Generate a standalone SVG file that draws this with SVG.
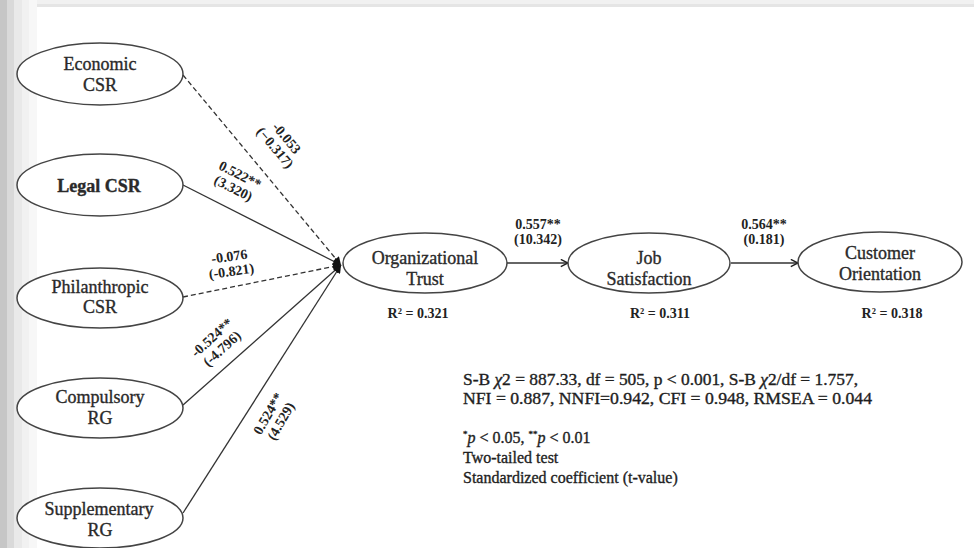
<svg xmlns="http://www.w3.org/2000/svg" width="974" height="548" viewBox="0 0 974 548">
  <defs>
    <marker id="head-solid" viewBox="0 0 10 10" refX="10" refY="5" markerWidth="10" markerHeight="8" markerUnits="userSpaceOnUse" orient="auto">
      <path d="M0,0 L10,5 L0,10 Z" fill="#111"/>
    </marker>
    <marker id="head-open" viewBox="0 0 10 10" refX="9" refY="5" markerWidth="9" markerHeight="9" markerUnits="userSpaceOnUse" orient="auto">
      <path d="M1,1 L9,5 L1,9" fill="none" stroke="#222" stroke-width="1.6"/>
    </marker>
    <style>
      .node ellipse { fill: #ffffff; stroke: #444; stroke-width: 1.5; }
      .lbl { font-family: "Liberation Serif", "Times New Roman", serif; font-size: 18px; fill: #2a2a2a; stroke: #2a2a2a; stroke-width: 0.35; text-anchor: middle; }
      .coef { font-family: "Liberation Serif", "Times New Roman", serif; font-size: 14px; font-weight: bold; fill: #222; text-anchor: middle; }
      .r2 { font-family: "Liberation Serif", "Times New Roman", serif; font-size: 14px; font-weight: bold; fill: #222; text-anchor: middle; }
      .note { font-family: "Liberation Serif", "Times New Roman", serif; font-size: 16px; fill: #1e1e1e; stroke: #1e1e1e; stroke-width: 0.35; }
      .edge { stroke: #333; stroke-width: 1.3; fill: none; }
      .dash { stroke-dasharray: 5 3; }
    </style>
  </defs>

  <!-- page background with soft left and top borders -->
  <rect x="0" y="0" width="974" height="548" fill="#ffffff"/>
  <rect x="0" y="0" width="974" height="4" fill="#f1f1f1"/>
  <rect x="0" y="4" width="974" height="3" fill="#e5e5e5"/>
  <rect x="0" y="0" width="7" height="548" fill="#c6c6c6"/>
  <rect x="7" y="0" width="7" height="548" fill="#d9d9d9"/>
  <rect x="14" y="0" width="8" height="548" fill="#e9e9e9"/>
  <rect x="22" y="0" width="7" height="548" fill="#f1f1f1"/>
  <rect x="29" y="0" width="8" height="548" fill="#f7f7f7"/>

  <!-- connectors -->
  <g id="connectors">
    <line class="edge dash" x1="183" y1="75" x2="341" y2="265" marker-end="url(#head-solid)"/>
    <line class="edge" x1="183" y1="185" x2="341" y2="265" marker-end="url(#head-solid)"/>
    <line class="edge dash" x1="183" y1="297" x2="341" y2="265" marker-end="url(#head-solid)"/>
    <line class="edge" x1="183" y1="405" x2="341" y2="265" marker-end="url(#head-solid)"/>
    <line class="edge" x1="183" y1="513" x2="341" y2="265" marker-end="url(#head-solid)"/>
    <line class="edge" x1="507" y1="263" x2="568" y2="263" marker-end="url(#head-open)"/>
    <line class="edge" x1="731" y1="263" x2="798" y2="263" marker-end="url(#head-open)"/>

    <!-- path coefficients (t-values) -->
    <g transform="translate(283,141) rotate(50)">
      <text class="coef" x="0" y="0">-0.053</text>
      <text class="coef" x="0" y="15">(−0.317)</text>
    </g>
    <g transform="translate(238,179) rotate(27)">
      <text class="coef" x="0" y="0">0.522**</text>
      <text class="coef" x="0" y="15">(3.320)</text>
    </g>
    <g transform="translate(230,261) rotate(-8)">
      <text class="coef" x="0" y="0">-0.076</text>
      <text class="coef" x="0" y="15">(-0.821)</text>
    </g>
    <g transform="translate(215,341) rotate(-42)">
      <text class="coef" x="0" y="0">-0.524**</text>
      <text class="coef" x="0" y="15">(-4.796)</text>
    </g>
    <g transform="translate(272,416) rotate(-60)">
      <text class="coef" x="0" y="0">0.524**</text>
      <text class="coef" x="0" y="15">(4.529)</text>
    </g>
    <text class="coef" x="538" y="229">0.557**</text>
    <text class="coef" x="538" y="244">(10.342)</text>
    <text class="coef" x="764" y="229">0.564**</text>
    <text class="coef" x="764" y="244">(0.181)</text>
  </g>

  <!-- exogenous constructs -->
  <g id="economic-csr" class="node">
    <ellipse cx="100" cy="74" rx="83" ry="31"/>
    <text class="lbl" x="100" y="70">Economic</text>
    <text class="lbl" x="100" y="91">CSR</text>
  </g>
  <g id="legal-csr" class="node">
    <ellipse cx="100" cy="185" rx="83" ry="31"/>
    <text class="lbl" x="99" y="192" font-weight="bold">Legal CSR</text>
  </g>
  <g id="philanthropic-csr" class="node">
    <ellipse cx="100" cy="298" rx="83" ry="30"/>
    <text class="lbl" x="100" y="293" font-size="16.5" stroke-width="0.1">Philanthropic</text>
    <text class="lbl" x="100" y="313">CSR</text>
  </g>
  <g id="compulsory-rg" class="node">
    <ellipse cx="100" cy="408" rx="83" ry="30"/>
    <text class="lbl" x="100" y="403">Compulsory</text>
    <text class="lbl" x="100" y="424">RG</text>
  </g>
  <g id="supplementary-rg" class="node">
    <ellipse cx="100" cy="518" rx="83" ry="30"/>
    <text class="lbl" x="99" y="515" font-size="16.5" stroke-width="0.1">Supplementary</text>
    <text class="lbl" x="100" y="536">RG</text>
  </g>

  <!-- endogenous constructs -->
  <g id="organizational-trust" class="node">
    <ellipse cx="425" cy="263" rx="82" ry="30"/>
    <text class="lbl" x="425" y="264">Organizational</text>
    <text class="lbl" x="425" y="285">Trust</text>
    <text class="r2" x="418" y="318">R² = 0.321</text>
  </g>
  <g id="job-satisfaction" class="node">
    <ellipse cx="649" cy="263" rx="81" ry="30"/>
    <text class="lbl" x="649" y="264">Job</text>
    <text class="lbl" x="649" y="285">Satisfaction</text>
    <text class="r2" x="660" y="318">R² = 0.311</text>
  </g>
  <g id="customer-orientation" class="node">
    <ellipse cx="880" cy="262" rx="82" ry="30"/>
    <text class="lbl" x="880" y="259">Customer</text>
    <text class="lbl" x="880" y="280">Orientation</text>
    <text class="r2" x="892" y="318">R² = 0.318</text>
  </g>

  <!-- model fit and legend -->
  <g id="fit-notes">
    <text class="note" x="463" y="385" textLength="395" lengthAdjust="spacingAndGlyphs">S-B <tspan font-style="italic">χ</tspan>2 = 887.33, df = 505, p &lt; 0.001, S-B <tspan font-style="italic">χ</tspan>2/df = 1.757,</text>
    <text class="note" x="463" y="404" textLength="409" lengthAdjust="spacingAndGlyphs">NFI = 0.887, NNFI=0.942, CFI = 0.948, RMSEA = 0.044</text>
    <text class="note" x="463" y="443"><tspan font-size="9" dy="-6">*</tspan><tspan font-style="italic" dy="6">p</tspan> &lt; 0.05, <tspan font-size="9" dy="-6">**</tspan><tspan font-style="italic" dy="6">p</tspan> &lt; 0.01</text>
    <text class="note" x="463" y="463">Two-tailed test</text>
    <text class="note" x="463" y="483">Standardized coefficient (t-value)</text>
  </g>
</svg>
